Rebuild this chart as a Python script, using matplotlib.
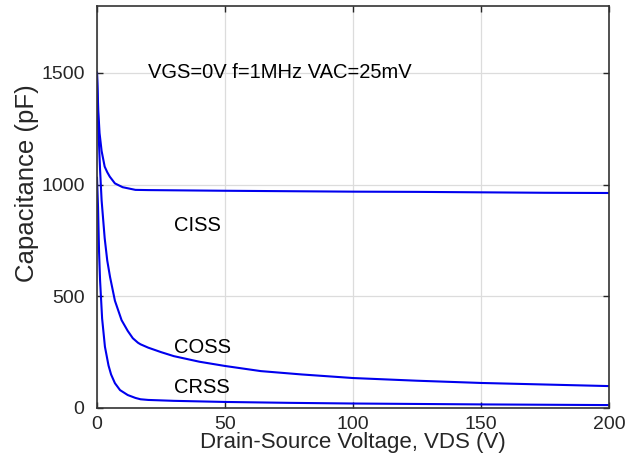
import matplotlib
matplotlib.use('Agg')
import matplotlib.pyplot as plt

plt.rcParams['font.family'] = ['Liberation Sans', 'DejaVu Sans']

# Capacitance vs drain-source voltage
ciss_v = [0, 0.5, 1, 1.8, 3, 4, 5, 7, 10, 15, 20, 30, 50, 75, 100, 125, 150, 175, 200]
ciss_c = [1500, 1330, 1230, 1150, 1080, 1055, 1035, 1005, 988, 976, 975, 974, 972, 970, 968, 967, 965, 963, 962]

coss_v = [0, 0.5, 1.2, 1.8, 3, 4, 5.1, 7, 9.6, 12, 14, 16, 17, 20, 25, 30, 40, 50, 64, 80, 100, 125, 150, 175, 200]
coss_c = [1500, 1260, 1066, 929, 760, 660, 586, 480, 393, 345, 312, 292, 285, 270, 250, 232, 207, 188, 165, 150, 134, 122, 112, 105, 98]

crss_v = [0, 0.4, 0.8, 1.2, 2, 3.1, 4.5, 5.5, 7, 9, 12, 15, 17, 20, 30, 50, 75, 100, 150, 200]
crss_c = [1030, 900, 700, 571, 400, 274, 190, 150, 111, 80, 58, 45, 39, 36, 32, 27, 23, 20, 16, 13]

x_ticks = [0, 50, 100, 150, 200]
y_ticks = [0, 500, 1000, 1500]

fig = plt.figure(figsize=(6.39, 4.69), dpi=100)
ax = fig.add_axes([0.1518, 0.1301, 0.8012, 0.8577])

for v, c in [(ciss_v, ciss_c), (coss_v, coss_c), (crss_v, crss_c)]:
    ax.plot(v, c, color='#0000ee', linewidth=1.5)

ax.set_xlim(0, 200)
ax.set_ylim(0, 1800)
ax.set_xticks(x_ticks)
ax.set_yticks(y_ticks)
ax.grid(True, color='#dcdcdc', linewidth=0.9)
ax.set_axisbelow(True)
ax.tick_params(direction='in', top=True, right=True, length=4, width=1,
               labelsize=14, colors='#262626')
ax.tick_params(axis='x', pad=6)
ax.tick_params(axis='y', pad=9)
for s in ax.spines.values():
    s.set_color('#333333')
    s.set_linewidth(1.2)

ax.set_xlabel('Drain-Source Voltage, VDS (V)', fontsize=16, color='#262626', labelpad=-1)
ax.set_ylabel('Capacitance (pF)', fontsize=18.5, color='#262626')
ax.yaxis.set_label_coords(-0.113, 0.56)

ax.text(20, 1500, 'VGS=0V f=1MHz VAC=25mV', fontsize=14.5, va='center', ha='left', color='black')
ax.text(30, 815, 'CISS', fontsize=14.5, va='center', ha='left', color='black')
ax.text(30, 272, 'COSS', fontsize=14.5, va='center', ha='left', color='black')
ax.text(30, 93, 'CRSS', fontsize=14.5, va='center', ha='left', color='black')

fig.savefig('out.png', dpi=100)
